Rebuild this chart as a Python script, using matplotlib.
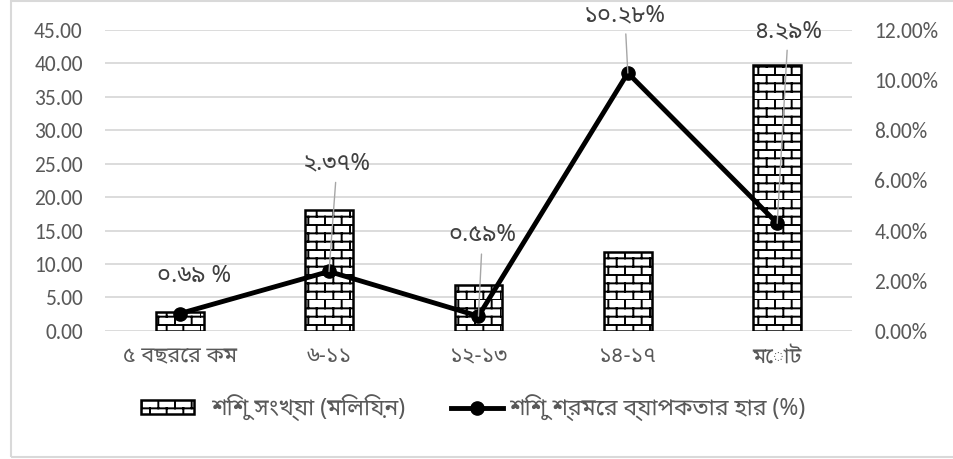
import warnings

import matplotlib
matplotlib.use('Agg')
import matplotlib.pyplot as plt
import numpy as np
from matplotlib import font_manager
from matplotlib import hatch as mhatch
from matplotlib.path import Path
from matplotlib.patches import Rectangle
from matplotlib.lines import Line2D
from matplotlib.patches import Patch
from matplotlib.legend_handler import HandlerPatch

warnings.filterwarnings('ignore')

# Data
categories = ['৫ বছরের কম', '৬-১১', '১২-১৩', '১৪-১৭', 'মোট']
children_millions = [2.9, 18.1, 6.8, 11.8, 39.7]
rate_pct = [0.69, 2.37, 0.59, 10.28, 4.29]
rate_labels = ['০.৬৯ %', '২.৩৭%', '০.৫৯%', '১০.২৮%', '৪.২৯%']
bar_name = 'শিশু সংখ্যা (মিলিয়ন)'
line_name = 'শিশু শ্রমের ব্যাপকতার হার (%)'

# label offsets in pixels (text centre relative to the point)
label_offsets = [(14, 38), (8, 108), (4, 81), (-3, 58), (11, 192)]
leaders = [False, True, True, True, True]


# pick fonts that are actually installed
installed = {f.name for f in font_manager.fontManager.ttflist}


def first_font(options, fallback):
    for name in options:
        if name in installed:
            return name
    return fallback


latin = first_font(['Carlito', 'Calibri', 'Open Sans', 'Liberation Sans'], 'DejaVu Sans')
bangla = first_font(['Noto Sans Bengali', 'Hind Siliguri', 'Baloo Da 2', 'Tiro Bangla',
                     'Anek Bangla', 'Noto Serif Bengali', 'Galada', 'Mina', 'Atma'], None)
if bangla is None:
    from matplotlib.ft2font import FT2Font
    for f in font_manager.fontManager.ttflist:
        try:
            if 0x09B6 in FT2Font(f.fname).get_charmap():
                bangla = f.name
                break
        except Exception:
            pass
families = [latin, bangla or 'DejaVu Sans', 'DejaVu Sans']
bn_families = [bangla or 'DejaVu Sans', latin, 'DejaVu Sans']
plt.rcParams['font.family'] = families


# brick hatch pattern for the bars
class BrickHatch(mhatch.HatchPatternBase):
    rows = 12
    cols = 6

    def __init__(self, hatch, density):
        on = 'b' in hatch
        self.num_vertices = (self.rows + self.rows * self.cols) * 2 if on else 0

    def set_vertices_and_codes(self, vertices, codes):
        segs = []
        for r in range(self.rows):
            y0 = r / self.rows
            y1 = (r + 1) / self.rows
            segs.append(((0, y0), (1, y0)))
            off = 0.5 / self.cols if r % 2 else 0.0
            for c in range(self.cols):
                x = c / self.cols + off
                segs.append(((x, y0), (x, y1)))
        vertices[:] = np.array(segs).reshape(-1, 2)
        codes[0::2] = Path.MOVETO
        codes[1::2] = Path.LINETO


mhatch._hatch_types.append(BrickHatch)
plt.rcParams['hatch.linewidth'] = 1.4
plt.rcParams['hatch.color'] = 'black'

fig = plt.figure(figsize=(9.54, 4.59), dpi=100)
ax = fig.add_axes([0.110, 0.279, 0.783, 0.656])
ax2 = ax.twinx()

x = np.arange(len(categories))
ax.bar(x, children_millions, width=0.32, color='white', edgecolor='black',
       linewidth=1.8, hatch='b', zorder=2)
ax.set_ylim(0, 45)
ax.set_yticks(np.arange(0, 46, 5))
ax.set_yticklabels([f'{v:.2f}' for v in np.arange(0, 46, 5)])
ax.set_xlim(-0.5, len(categories) - 0.5)
ax.set_xticks(x)
ax.set_xticklabels(categories, family=bn_families)
ax.grid(axis='y', color='#d9d9d9', linewidth=1.3, zorder=0)
ax.set_axisbelow(True)

ax2.plot(x, rate_pct, color='black', linewidth=3.5, marker='o', markersize=9.5,
         solid_joinstyle='round', zorder=3)
ax2.set_ylim(0, 12)
ax2.set_yticks(np.arange(0, 13, 2))
ax2.set_yticklabels([f'{v:.2f}%' for v in np.arange(0, 13, 2)])

for a in (ax, ax2):
    for s in a.spines.values():
        s.set_visible(False)
    a.tick_params(length=0, labelsize=15.5, labelcolor='#595959')
ax.tick_params(axis='y', pad=16)
ax2.tick_params(axis='y', pad=16)
ax.tick_params(axis='x', pad=11, labelsize=15.5)

for xi, v, lab, off, lead in zip(x, rate_pct, rate_labels, label_offsets, leaders):
    props = dict(arrowstyle='-', color='#a6a6a6', lw=1.0, shrinkA=3, shrinkB=0) if lead else None
    ax2.annotate(lab, xy=(xi, v), xytext=off, textcoords='offset pixels',
                 ha='center', va='center', fontsize=17, fontweight='bold',
                 color='#404040', family=bn_families, arrowprops=props, zorder=4)


def brick_box(legend, orig_handle, xdescent, ydescent, width, height, fontsize):
    # shifted left a little so the gap to the text matches the original
    return Rectangle((-xdescent - 0.5 * fontsize, -ydescent), width, height)


handles = [Patch(facecolor='white', edgecolor='black', hatch='b', linewidth=1.8),
           Line2D([], [], color='black', linewidth=3.5, marker='o', markersize=9.5)]
fig.legend(handles, [bar_name, line_name], loc='center', bbox_to_anchor=(0.502, 1 - 408 / 459),
           ncol=2, frameon=False, prop={'family': bn_families, 'size': 16.5},
           labelcolor='#595959', handlelength=2.3, handleheight=0.55, handletextpad=0.25,
           columnspacing=2.0, handler_map={Patch: HandlerPatch(patch_func=brick_box)})

# chart frame
fig.patches.append(Rectangle((11 / 954, 1 - 457 / 459), 1.0, 456 / 459,
                             transform=fig.transFigure, fill=False,
                             edgecolor='#d9d9d9', linewidth=1.5))

fig.savefig('out.png', dpi=100)
